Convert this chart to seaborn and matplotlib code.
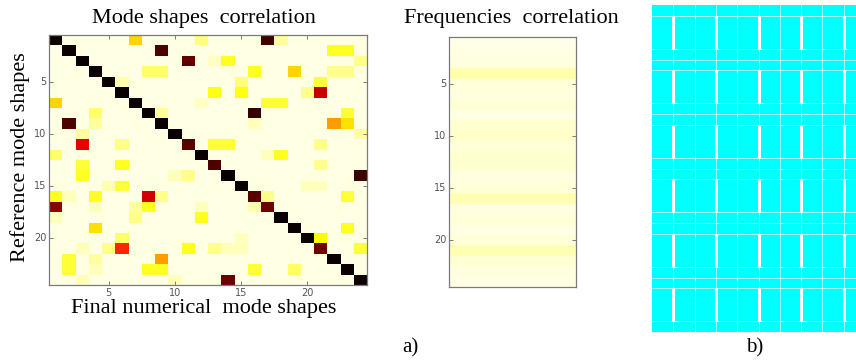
import numpy as np
import matplotlib
matplotlib.use('Agg')
import matplotlib.pyplot as plt
from matplotlib.colors import ListedColormap
import seaborn as sns

# --- panel a) left: mode shapes correlation (24 x 24) ---
n_modes = 24
background_level = 0.03
diag_vals = [1.0, 1.0, 1.0, 1.0, 1.0, 1.0, 1.0, 1.0, 1.0, 1.0, 0.88, 1.0,
             0.9, 1.0, 1.0, 0.88, 0.85, 1.0, 1.0, 1.0, 0.85, 1.0, 1.0, 1.0]
# off-diagonal entries (row, column, value), 1-based
off_rows = [1, 1, 1, 1,
            2, 2, 2,
            3, 3, 3, 3,
            4, 4, 4, 4, 4, 4,
            5, 5, 5,
            6, 6, 6, 6,
            7, 7, 7, 7,
            8, 8, 8, 8,
            9, 9, 9, 9, 9,
            10, 10,
            11, 11, 11, 11, 11,
            12, 12, 12,
            13, 13, 13,
            14, 14, 14, 14,
            15, 15, 15, 15,
            16, 16, 16, 16, 16, 16, 16,
            17, 17, 17, 17, 17, 17,
            18, 18, 18,
            19, 19,
            20, 20, 20,
            21, 21, 21, 21, 21, 21, 21, 21,
            22, 22, 22,
            23, 23, 23, 23, 23, 23,
            24, 24, 24]
off_cols = [7, 12, 17, 18,
            9, 22, 23,
            11, 13, 14, 24,
            8, 9, 16, 19, 22, 23,
            6, 15, 21,
            13, 15, 20, 21,
            1, 12, 17, 18,
            4, 9, 16, 23,
            2, 4, 16, 22, 23,
            3, 24,
            3, 6, 13, 14, 21,
            1, 17, 18,
            3, 6, 21,
            3, 10, 11, 24,
            5, 6, 20, 21,
            1, 2, 4, 8, 9, 17, 23,
            1, 4, 7, 8, 12, 16,
            1, 7, 12,
            4, 23,
            6, 15, 21,
            3, 5, 6, 11, 13, 14, 15, 24,
            2, 4, 9,
            2, 4, 8, 9, 16, 19,
            3, 10, 14]
off_vals = [0.32, 0.13, 0.92, 0.10,
            0.90, 0.22, 0.22,
            0.87, 0.06, 0.22, 0.12,
            0.15, 0.15, 0.22, 0.32, 0.12, 0.12,
            0.08, 0.13, 0.20,
            0.24, 0.24, 0.12, 0.72,
            0.32, 0.06, 0.20, 0.20,
            0.15, 0.10, 0.93, 0.20,
            0.90, 0.10, 0.07, 0.40, 0.30,
            0.10, 0.10,
            0.67, 0.12, 0.20, 0.20, 0.12,
            0.15, 0.07, 0.22,
            0.20, 0.22, 0.12,
            0.22, 0.07, 0.12, 0.92,
            0.08, 0.20, 0.07, 0.07,
            0.22, 0.07, 0.22, 0.70, 0.12, 0.12, 0.20,
            0.80, 0.07, 0.10, 0.22, 0.07, 0.08,
            0.07, 0.12, 0.22,
            0.30, 0.22,
            0.15, 0.07, 0.26,
            0.07, 0.12, 0.58, 0.22, 0.12, 0.07, 0.07, 0.20,
            0.20, 0.10, 0.40,
            0.20, 0.07, 0.22, 0.22, 0.20, 0.16,
            0.07, 0.07, 0.85]

# --- panel a) middle: frequencies correlation (24 x 1) ---
freq_vals = [0.025, 0.03, 0.035, 0.085, 0.04, 0.035, 0.045, 0.03, 0.05, 0.055, 0.04, 0.05,
             0.045, 0.035, 0.04, 0.075, 0.035, 0.04, 0.03, 0.04, 0.075, 0.045, 0.035, 0.03]

tick_pos = [5, 10, 15, 20]
tick_labels = ['5', '10', '15', '20']

# --- panel b): grid pattern ---
b_n_rows = 30
b_n_cols = 10
b_row_edges = [1, 4, 5, 6, 9, 10, 11, 14, 15, 16, 19, 20, 21, 24, 25, 26, 29]
b_col_edges = [1, 2, 3, 4, 5, 6, 7, 8, 9]
b_thick_cols = [1, 3, 5, 7, 9]
b_tall_start = [1, 6, 11, 16, 21, 26]
b_tall_end = [4, 9, 14, 19, 24, 29]

W, H = 856, 360
SERIF = 'Liberation Serif'

mac = np.full((n_modes, n_modes), background_level)
for r, c, v in zip(off_rows, off_cols, off_vals):
    mac[r - 1, c - 1] = v
for i, v in enumerate(diag_vals):
    mac[i, i] = v

fig = plt.figure(figsize=(W / 100, H / 100), dpi=100)


def px_axes(x0, y0, x1, y1):
    return fig.add_axes([x0 / W, 1 - y1 / H, (x1 - x0) / W, (y1 - y0) / H])


def matlab_ticks(ax, show_x=True):
    for s in ax.spines.values():
        s.set_visible(True)
        s.set_color('#7a7a7a')
        s.set_linewidth(0.9)
    t = [p - 0.5 for p in tick_pos]
    ax.set_yticks(t)
    ax.set_yticklabels(tick_labels, rotation=0)
    if show_x:
        ax.set_xticks(t)
        ax.set_xticklabels(tick_labels, rotation=0)
    else:
        ax.set_xticks([])
    ax.tick_params(direction='in', length=3, width=0.7, color='#7a7a7a',
                   labelsize=7, labelcolor='#555555', top=show_x, right=True, pad=2)
    for lab in ax.get_xticklabels() + ax.get_yticklabels():
        lab.set_family('DejaVu Sans')


ax1 = px_axes(49, 35, 367, 285)
sns.heatmap(mac, cmap='hot_r', vmin=0, vmax=1, cbar=False, ax=ax1,
            linewidths=0, square=False)
matlab_ticks(ax1)

ax2 = px_axes(449, 37, 576, 287)
sns.heatmap(np.array(freq_vals).reshape(-1, 1), cmap='hot_r', vmin=0, vmax=1,
            cbar=False, ax=ax2, linewidths=0)
matlab_ticks(ax2, show_x=False)

ax3 = px_axes(652, 5, 652 + 21.3 * b_n_cols, 332)
sns.heatmap(np.ones((b_n_rows, b_n_cols)), cmap=ListedColormap(['#00ffff']),
            cbar=False, ax=ax3, xticklabels=False, yticklabels=False)
ax3.hlines(b_row_edges, 0, b_n_cols, colors='#c8ffff', linewidth=0.6)
ax3.vlines(b_col_edges, 0, b_n_rows, colors='#c8ffff', linewidth=0.6)
for c in b_thick_cols:
    ax3.vlines([c] * len(b_tall_start), b_tall_start, b_tall_end,
               colors='white', linewidth=2.2)
ax3.set_xticks([])
ax3.set_yticks([])

fig.text(204 / W, 1 - 18 / H, 'Mode shapes  correlation', family=SERIF,
         fontsize=16, ha='center', va='center')
fig.text(511 / W, 1 - 18 / H, 'Frequencies  correlation', family=SERIF,
         fontsize=16, ha='center', va='center')
fig.text(204 / W, 1 - 309 / H, 'Final numerical  mode shapes', family=SERIF,
         fontsize=16, ha='center', va='center')
fig.text(20 / W, 1 - 157 / H, 'Reference mode shapes', family=SERIF,
         fontsize=16, ha='center', va='center', rotation=90)
fig.text(410 / W, 1 - 348 / H, 'a)', family=SERIF, fontsize=15,
         ha='center', va='center')
fig.text(755 / W, 1 - 348 / H, 'b)', family=SERIF, fontsize=15,
         ha='center', va='center')

fig.savefig('out.png', dpi=100)
